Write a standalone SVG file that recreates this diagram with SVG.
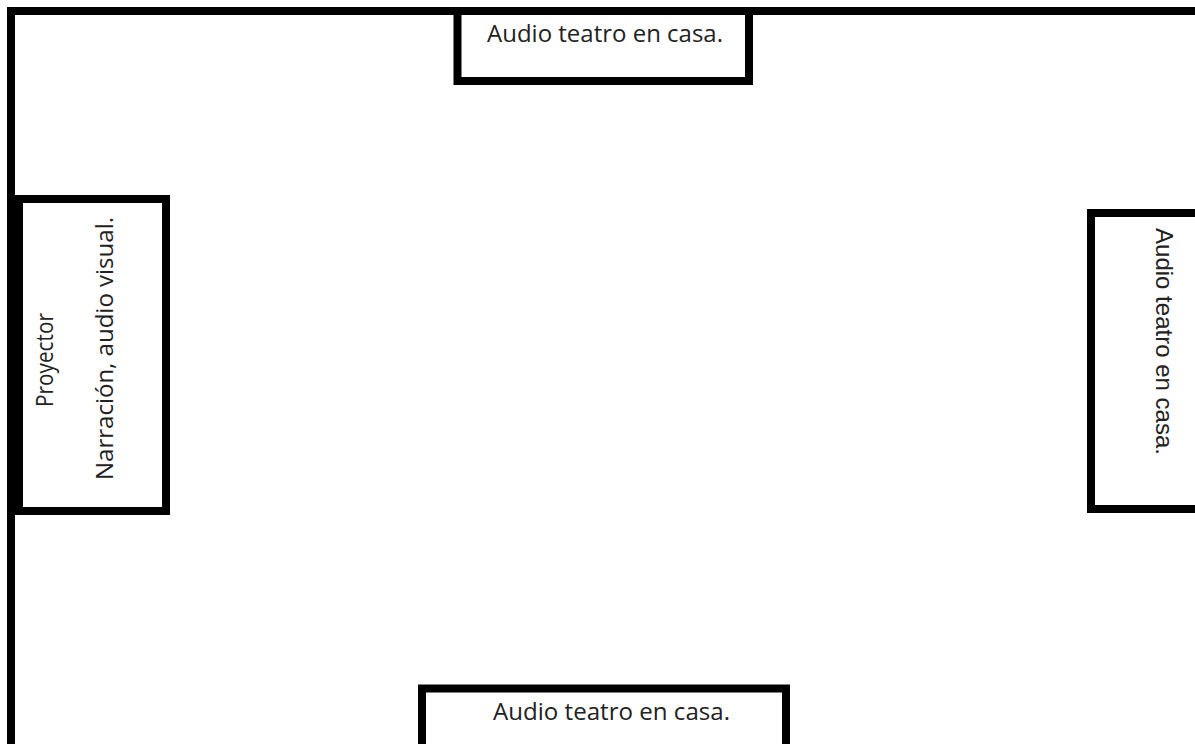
<svg xmlns="http://www.w3.org/2000/svg" width="1195" height="744" viewBox="0 0 1195 744">
<style>
.box{fill:#fff;stroke:#000;stroke-width:8}
.wall{fill:#000}
.t{font-family:"Open Sans","Noto Sans",sans-serif;font-size:23px;fill:#222}
.ta{font-family:"Liberation Sans",Arial,sans-serif;font-size:24px;fill:#222}
</style>
<rect width="1195" height="744" fill="#fff"/>
<g id="walls">
<rect class="wall" x="7" y="7" width="1188" height="8"/>
<rect class="wall" x="7" y="7" width="8" height="737"/>
</g>
<g id="connectors"></g>
<g id="top-speaker">
<rect class="box" x="457.5" y="11" width="291.5" height="70"/>
<text class="t" x="487" y="42" textLength="236" lengthAdjust="spacingAndGlyphs">Audio teatro en casa.</text>
</g>
<g id="projector">
<rect class="box" x="19" y="199" width="147" height="312"/>
<text class="t" transform="translate(53,407) rotate(-90)" textLength="94" lengthAdjust="spacingAndGlyphs">Proyector</text>
<text class="t" transform="translate(113,480) rotate(-90)" textLength="263" lengthAdjust="spacingAndGlyphs">Narración, audio visual.</text>
</g>
<g id="right-speaker">
<rect class="box" x="1091" y="213" width="110" height="296"/>
<text class="ta" transform="translate(1156,228) rotate(90)" textLength="227" lengthAdjust="spacingAndGlyphs">Audio teatro en casa.</text>
</g>
<g id="bottom-speaker">
<rect class="box" x="422" y="688.5" width="364" height="70"/>
<text class="t" x="493" y="720" textLength="237" lengthAdjust="spacingAndGlyphs">Audio teatro en casa.</text>
</g>
</svg>
